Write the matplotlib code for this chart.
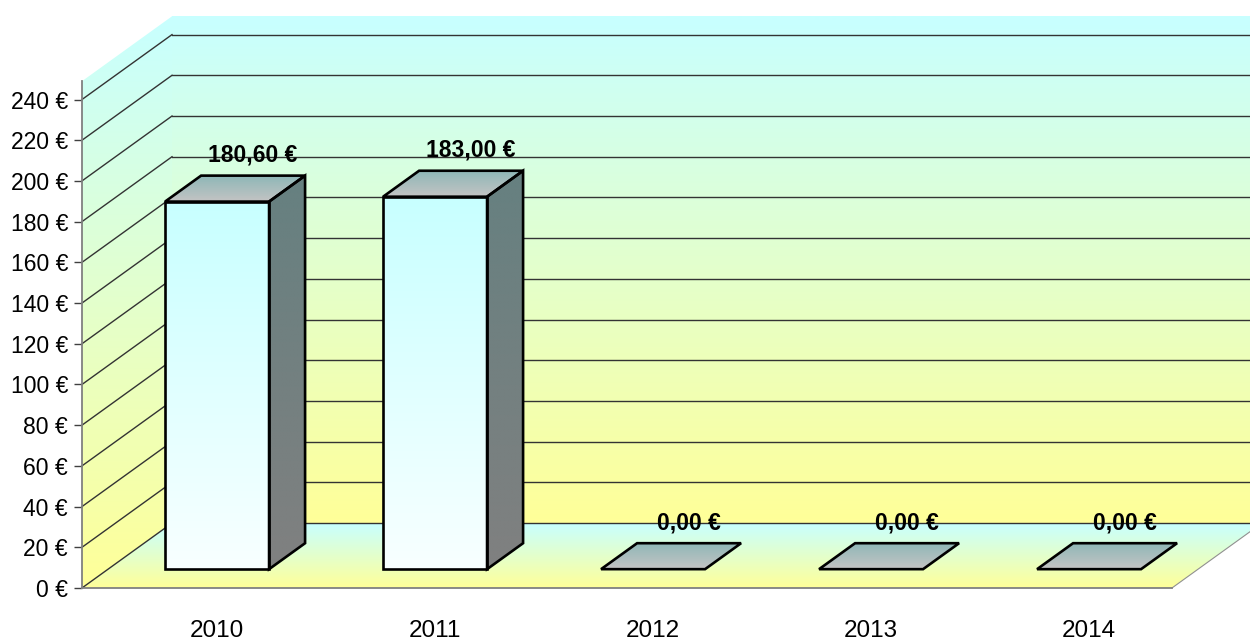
import matplotlib.pyplot as plt
import numpy as np
from matplotlib.patches import Polygon
from matplotlib.colors import to_rgb

plt.rcParams['font.family'] = ['Liberation Sans', 'DejaVu Sans']

years = ['2010', '2011', '2012', '2013', '2014']
amounts = [180.60, 183.00, 0.00, 0.00, 0.00]
yticks = list(range(0, 241, 20))
ymax = 249

# fake 3d: depth offset (x in category units, y in euro units)
DX, DY = 0.413, 31.9
Z0, Z1 = 0.29, 0.69   # bar front / back depth
BW = 0.477            # bar width

fig = plt.figure(figsize=(12.5, 6.4), dpi=100)
ax = fig.add_axes([0, 0, 1, 1])


def grad(verts, top, bottom, z=1, ec='none', lw=0):
    verts = np.asarray(verts, dtype=float)
    poly = Polygon(verts, closed=True, fc='none', ec=ec, lw=lw,
                   zorder=z + 0.1, joinstyle='miter')
    ax.add_patch(poly)
    c = np.linspace(np.array(to_rgb(top)), np.array(to_rgb(bottom)), 64)[:, None, :]
    x0, y0 = verts.min(0)
    x1, y1 = verts.max(0)
    im = ax.imshow(c, extent=(x0, x1, y0, y1), origin='upper', aspect='auto',
                   interpolation='bilinear', zorder=z)
    im.set_clip_path(poly)
    return poly


# walls and floor
grad([(DX, DY), (5 + DX, DY), (5 + DX, DY + ymax), (DX, DY + ymax)], '#C8FFFF', '#FFFF99', z=0)
grad([(0, 0), (DX, DY), (DX, DY + ymax), (0, ymax)], '#C8FFFF', '#FFFF99', z=0)
grad([(0, 0), (5, 0), (5 + DX, DY), (DX, DY)], '#C8FFFF', '#FFFF99', z=0.5)

for v in yticks:
    ax.plot([DX, 5 + DX], [v + DY, v + DY], color='#333333', lw=1.0, zorder=1)
    ax.plot([0, DX], [v, v + DY], color='#333333', lw=1.0, zorder=1)
ax.plot([5, 5 + DX], [0, DY], color='#909090', lw=0.8, zorder=1)

# bars
ox0, oy0 = Z0 * DX, Z0 * DY
ox1, oy1 = Z1 * DX, Z1 * DY
for i, v in enumerate(amounts):
    xl = i + 0.5 - BW / 2
    xr = xl + BW
    if v > 0:
        grad([(xl + ox0, oy0), (xr + ox0, oy0), (xr + ox0, v + oy0), (xl + ox0, v + oy0)],
             '#C8FFFF', '#F8FFFF', z=3, ec='black', lw=1.9)
        grad([(xr + ox0, oy0), (xr + ox1, oy1), (xr + ox1, v + oy1), (xr + ox0, v + oy0)],
             '#668080', '#808080', z=3, ec='black', lw=1.9)
    grad([(xl + ox0, v + oy0), (xr + ox0, v + oy0), (xr + ox1, v + oy1), (xl + ox1, v + oy1)],
         '#8FB7B7', '#C4C4C4', z=3, ec='black', lw=1.9)
    label = f'{v:.2f} €'.replace('.', ',')
    ax.text(i + 0.5 + ox1, v + oy1 + 10, label, ha='center', va='center',
            fontsize=16.5, fontweight='bold', zorder=6)

# axes
ax.set_xlim(-0.376, 5.358)
ax.set_ylim(-25.55, 288.9)
for s in ['top', 'right']:
    ax.spines[s].set_visible(False)
ax.spines['left'].set_position(('data', 0))
ax.spines['bottom'].set_position(('data', 0))
ax.spines['left'].set_bounds(0, ymax)
ax.spines['bottom'].set_bounds(0, 5)
for s in ['left', 'bottom']:
    ax.spines[s].set_color('#808080')
    ax.spines[s].set_linewidth(1.3)
    ax.spines[s].set_zorder(2)

ax.set_yticks(yticks)
ax.set_yticklabels([f'{v} €' for v in yticks])
ax.tick_params(axis='y', length=6, width=1, color='#404040', labelsize=16.5, pad=4)
ax.set_xticks([i + 0.62 for i in range(len(years))])
ax.set_xticklabels(years)
ax.tick_params(axis='x', length=0, labelsize=17.5, pad=23)

fig.savefig('out.png', dpi=100)
